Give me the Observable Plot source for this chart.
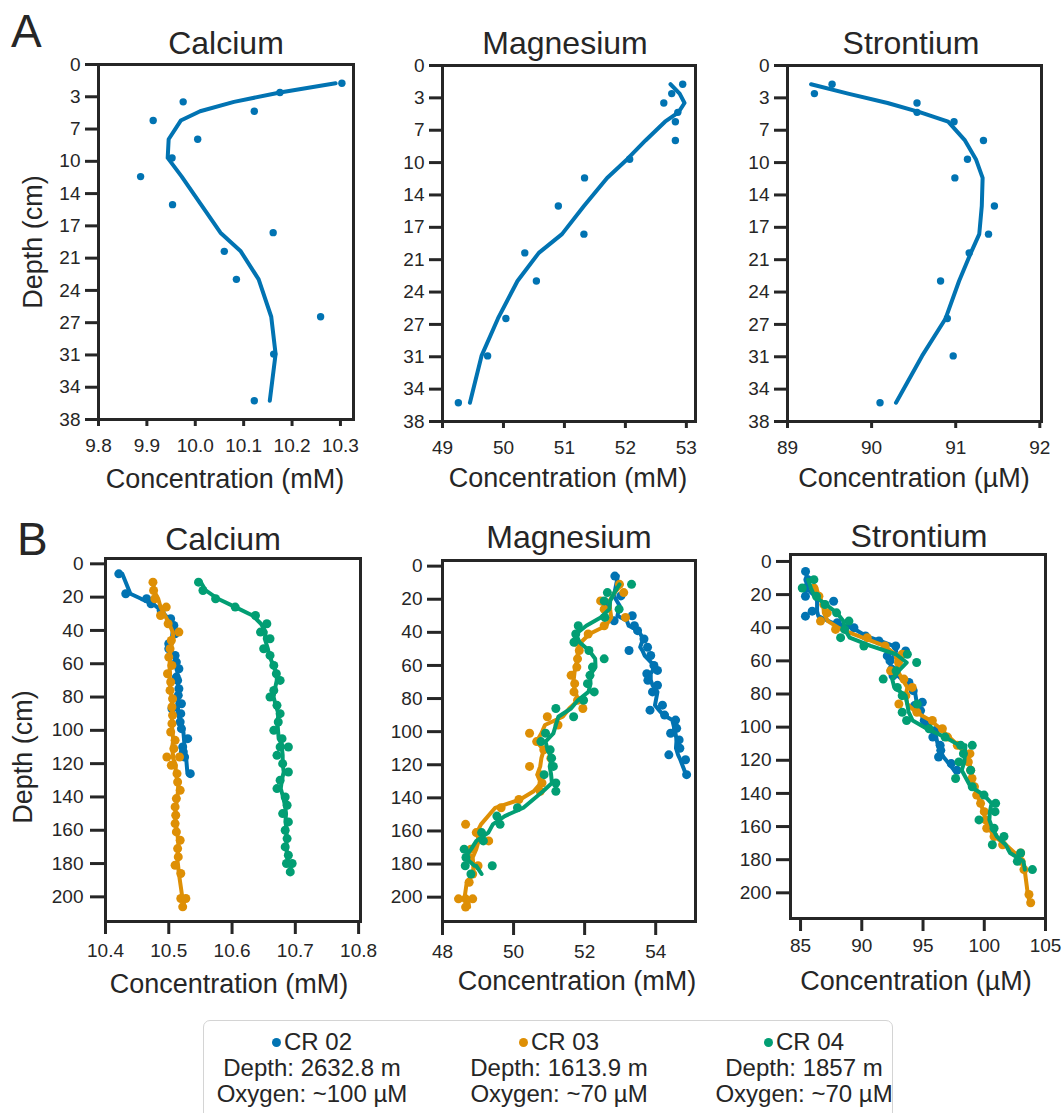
<!DOCTYPE html>
<html><head><meta charset="utf-8">
<script src="https://cdn.jsdelivr.net/npm/d3@7"></script>
<script src="https://cdn.jsdelivr.net/npm/@observablehq/plot@0.6"></script>
<style>
body{margin:0;background:#fff;}
#root{position:relative;width:1064px;height:1113px;overflow:hidden;font-family:"Liberation Sans",Arial,sans-serif;color:#262626;background:#fff;}
.t{position:absolute;white-space:nowrap;line-height:1;}
.c{transform:translateX(-50%);}
.rot{transform:translate(-50%,-50%) rotate(-90deg);}
#legend{position:absolute;left:203px;top:1020px;width:690px;height:110px;border:1.5px solid #d4d4d4;border-radius:7px;box-sizing:border-box;}
.col{position:absolute;top:8px;width:240px;text-align:center;font-size:24px;line-height:26px;}
.sw{display:inline-block;width:9px;height:9px;border-radius:50%;margin-right:3px;vertical-align:3px;}
</style></head>
<body><div id="root"></div>
<script>
// ---------- Panel A (single core) ----------
const depthA   = [2, 3, 4, 5, 6, 8, 10, 12, 15, 18, 20, 23, 27, 31, 36];
const caA      = [10.303, 10.175, 9.975, 10.122, 9.913, 10.005, 9.952, 9.887, 9.953, 10.161, 10.060, 10.085, 10.259, 10.162, 10.122];
const caFitA   = [10.290, 10.175, 10.080, 10.010, 9.970, 9.945, 9.943, 9.972, 10.012, 10.052, 10.094, 10.131, 10.157, 10.166, 10.154];
const mgA      = [52.94, 52.76, 52.63, 52.86, 52.82, 52.82, 52.07, 51.33, 50.90, 51.32, 50.35, 50.54, 50.04, 49.74, 49.26];
const mgFitA   = [52.74, 52.89, 52.97, 52.87, 52.65, 52.33, 52.03, 51.70, 51.32, 50.96, 50.58, 50.23, 49.91, 49.64, 49.45];
const srA      = [89.53, 89.32, 90.54, 90.54, 90.98, 91.33, 91.14, 90.99, 91.46, 91.39, 91.16, 90.82, 90.90, 90.97, 90.10];
const srFitA   = [89.28, 89.72, 90.19, 90.58, 90.91, 91.11, 91.24, 91.32, 91.31, 91.28, 91.18, 91.04, 90.88, 90.60, 90.29];
const depthTickLabelsA = ["0","3","7","10","14","17","21","24","27","31","34","38"];
const caTicksA = [9.8, 9.9, 10.0, 10.1, 10.2, 10.3];
const mgTicksA = [49, 50, 51, 52, 53];
const srTicksA = [89, 90, 91, 92];

// ---------- Panel B (three cores) : [depth cm, concentration] ----------
const caB02 = [[6,10.421],[18,10.432],[21,10.465],[24,10.472],[28,10.488],[33,10.503],[37,10.508],[42,10.510],[48,10.500],[51,10.500],[55,10.510],[59,10.512],[63,10.516],[68,10.512],[70,10.514],[75,10.516],[79,10.515],[84,10.520],[87,10.505],[90,10.519],[95,10.518],[99,10.520],[105,10.530],[110,10.522],[113,10.523],[116,10.525],[126,10.534]];
const caB03 = [[11,10.475],[16,10.476],[21,10.478],[26,10.496],[31,10.487],[36,10.499],[41,10.516],[46,10.504],[51,10.502],[56,10.500],[61,10.505],[66,10.498],[71,10.503],[76,10.502],[81,10.506],[86,10.505],[91,10.506],[96,10.505],[101,10.503],[106,10.510],[111,10.508],[116,10.497],[116,10.517],[121,10.504],[126,10.513],[131,10.514],[136,10.518],[141,10.512],[146,10.510],[151,10.511],[156,10.510],[161,10.512],[166,10.518],[171,10.514],[176,10.515],[181,10.510],[186,10.519],[201,10.519],[201,10.527],[206,10.522]];
const caB04 = [[11,10.547],[16,10.554],[21,10.574],[26,10.605],[31,10.637],[36,10.655],[41,10.645],[45,10.660],[51,10.650],[55,10.660],[61,10.666],[66,10.670],[70,10.676],[76,10.666],[80,10.660],[85,10.671],[90,10.676],[95,10.673],[100,10.666],[105,10.679],[110,10.676],[110,10.689],[115,10.671],[120,10.680],[125,10.689],[130,10.676],[135,10.671],[140,10.684],[145,10.687],[150,10.680],[155,10.689],[160,10.684],[165,10.687],[170,10.684],[175,10.689],[180,10.686],[180,10.695],[185,10.692]];
const mgB02 = [[6,52.85],[18,53.02],[24,52.60],[30,53.34],[33,52.83],[36,53.40],[39,53.49],[44,53.67],[49,53.77],[51,53.25],[54,53.86],[60,53.95],[63,54.05],[65,53.75],[69,53.78],[72,54.05],[76,53.91],[84,54.19],[87,53.84],[90,54.25],[93,54.56],[98,54.59],[101,54.42],[105,54.66],[110,54.68],[114,54.37],[117,54.84],[126,54.87]];
const mgB03 = [[11,52.98],[16,53.10],[21,52.45],[26,52.55],[31,53.15],[36,52.55],[41,52.10],[46,51.75],[51,51.85],[56,51.80],[61,51.78],[66,51.62],[71,51.72],[76,51.70],[81,51.80],[86,51.95],[91,50.95],[96,51.25],[101,50.45],[106,50.65],[111,50.85],[116,51.05],[121,50.45],[126,50.75],[131,50.80],[136,50.75],[141,50.15],[146,49.65],[156,48.65],[161,48.95],[166,49.30],[171,48.80],[176,48.75],[181,49.00],[186,48.85],[191,48.75],[201,48.45],[201,48.65],[201,48.85],[206,48.65]];
const mgB04 = [[11,53.32],[16,52.64],[21,52.55],[26,52.97],[31,52.57],[36,51.82],[41,51.75],[46,51.70],[51,52.12],[56,52.55],[61,52.22],[66,52.15],[71,52.08],[76,52.27],[81,51.97],[86,51.19],[91,51.69],[101,50.90],[106,50.77],[111,51.03],[116,51.07],[121,51.12],[126,50.86],[131,51.19],[136,51.19],[146,50.11],[151,49.53],[156,49.62],[161,49.10],[166,49.15],[171,48.61],[176,48.66],[181,48.64],[181,49.40],[186,48.80]];
const srB02 = [[6,85.41],[11,85.60],[16,85.45],[21,85.40],[24,87.70],[30,85.95],[33,85.40],[37,88.00],[40,89.36],[45,90.30],[48,91.40],[51,92.77],[54,93.58],[57,92.08],[60,92.30],[65,92.45],[69,92.55],[73,93.85],[78,94.20],[85,94.94],[87,94.30],[90,94.80],[96,95.10],[99,95.35],[102,96.03],[106,95.80],[111,96.40],[114,96.45],[118,96.27],[122,97.30],[126,97.77]];
const srB03 = [[16,86.09],[21,86.50],[26,86.90],[31,87.18],[36,86.63],[41,87.86],[46,90.45],[51,91.90],[56,93.30],[61,93.00],[66,92.35],[71,93.44],[76,94.12],[81,93.60],[86,93.03],[91,94.50],[96,95.76],[101,96.58],[106,97.00],[111,97.80],[116,98.83],[121,98.70],[126,98.89],[131,99.00],[136,99.20],[141,99.38],[146,99.70],[151,100.00],[156,100.11],[161,100.20],[166,100.80],[171,101.50],[176,102.97],[181,103.00],[186,103.24],[201,103.65],[206,103.79]];
const srB04 = [[11,86.09],[16,85.14],[21,86.30],[26,87.00],[31,87.94],[36,88.95],[41,88.60],[46,88.27],[51,90.17],[56,93.72],[61,94.48],[66,92.80],[71,91.75],[76,92.90],[81,93.30],[86,94.53],[91,93.30],[96,93.66],[101,95.50],[106,96.80],[111,98.07],[111,99.02],[116,98.30],[121,97.93],[126,98.89],[131,97.66],[136,99.02],[141,99.98],[146,100.93],[151,100.88],[156,99.57],[161,100.80],[166,101.61],[171,100.66],[176,102.97],[181,102.70],[186,103.93]];
const depthTicksB = [0, 20, 40, 60, 80, 100, 120, 140, 160, 180, 200];
const caTicksB = [10.4, 10.5, 10.6, 10.7, 10.8];
const mgTicksB = [48, 50, 52, 54];
const srTicksB = [85, 90, 95, 100, 105];

const cores = ["CR 02", "CR 03", "CR 04"];
const coreColors = ["#0173B2", "#DE8F05", "#029E73"];
const coreDepth = ["Depth: 2632.8 m", "Depth: 1613.9 m", "Depth: 1857 m"];
const coreOxygen = ["Oxygen: ~100 µM", "Oxygen: ~70 µM", "Oxygen: ~70 µM"];

const root = document.getElementById("root");
const INK = "#262626";
const FONT = "'Liberation Sans', Arial, sans-serif";

function addText(txt, left, top, size, cls = "t c") {
  const d = document.createElement("div");
  d.className = cls; d.textContent = txt;
  d.style.left = left + "px"; d.style.top = top + "px"; d.style.fontSize = size + "px";
  root.appendChild(d);
  return d;
}

function panel(cfg) {
  const {L, R, T, B, xDomain, yDomain, xTicks, xFmt, yTicks, yFmt, marks, xt, yt} = cfg;
  const padL = 100, padR = 25, padT = 12, padB = 45;
  const svg = Plot.plot({
    width: (R - L) + padL + padR,
    height: (B - T) + padT + padB,
    marginLeft: padL, marginRight: padR, marginTop: padT, marginBottom: padB,
    x: {domain: xDomain},
    y: {domain: yDomain},
    style: {background: "transparent", color: INK, fontFamily: FONT, overflow: "visible", maxWidth: "none"},
    marks: [
      ...marks,
      Plot.frame({stroke: INK, strokeWidth: 3}),
      Plot.axisX({ticks: xTicks, tickFormat: xFmt, tickSize: xt[0], tickPadding: xt[1], fontSize: 19, strokeWidth: 3, label: null}),
      Plot.axisY({ticks: yTicks, tickFormat: yFmt, tickSize: yt[0], tickPadding: yt[1], fontSize: 19, strokeWidth: 3, label: null})
    ]
  });
  svg.style.position = "absolute";
  svg.style.left = (L - padL) + "px";
  svg.style.top = (T - padT) + "px";
  root.appendChild(svg);
}

// Panel A
const rowsA = depthA.map((d, i) => ({depth: d, ca: caA[i], caFit: caFitA[i], mg: mgA[i], mgFit: mgFitA[i], sr: srA[i], srFit: srFitA[i]}));
const depthTicksA = depthTickLabelsA.map((_, i) => i * 38 / (depthTickLabelsA.length - 1));
const labA = new Map(depthTicksA.map((t, i) => [t, depthTickLabelsA[i]]));
const fmtA = d => labA.get(d);
function aMarks(k) {
  return [
    Plot.dot(rowsA, {x: k, y: "depth", fill: coreColors[0], r: 3.7}),
    Plot.line(rowsA, {x: k + "Fit", y: "depth", stroke: coreColors[0], strokeWidth: 4})
  ];
}
panel({L: 98, R: 353, T: 64, B: 419, xDomain: [9.8, 10.327], yDomain: [38, 0], xTicks: caTicksA, xFmt: d3.format(".1f"),
  yTicks: depthTicksA, yFmt: fmtA, marks: aMarks("ca"), xt: [7, 12], yt: [13, 5]});
panel({L: 442, R: 695, T: 65, B: 421, xDomain: [49, 53.15], yDomain: [38, 0], xTicks: mgTicksA, xFmt: d3.format("d"),
  yTicks: depthTicksA, yFmt: fmtA, marks: aMarks("mg"), xt: [7, 12], yt: [13, 5]});
panel({L: 787, R: 1041, T: 65, B: 421, xDomain: [89, 92.02], yDomain: [38, 0], xTicks: srTicksA, xFmt: d3.format("d"),
  yTicks: depthTicksA, yFmt: fmtA, marks: aMarks("sr"), xt: [7, 12], yt: [13, 5]});

// Panel B
function bMarks(seriesList) {
  return seriesList.flatMap((rows, i) => {
    const data = rows.map(([depth, value]) => ({depth, value}));
    return [
      Plot.dot(data, {x: "value", y: "depth", fill: coreColors[i], r: 4.5}),
      Plot.line(data, Plot.windowX({k: 3, reduce: "mean"}, {x: "value", y: "depth", stroke: coreColors[i], strokeWidth: 4}))
    ];
  });
}
const fmtB = d3.format("d");
panel({L: 105, R: 360, T: 558, B: 921, xDomain: [10.4, 10.803], yDomain: [214.8, -3.2], xTicks: caTicksB, xFmt: d3.format(".1f"),
  yTicks: depthTicksB, yFmt: fmtB, marks: bMarks([caB02, caB03, caB04]), xt: [13, 9], yt: [15, 7]});
panel({L: 442, R: 695, T: 560, B: 921, xDomain: [48, 55.12], yDomain: [214.7, -3.4], xTicks: mgTicksB, xFmt: d3.format("d"),
  yTicks: depthTicksB, yFmt: fmtB, marks: bMarks([mgB02, mgB03, mgB04]), xt: [14, 9], yt: [15, 5]});
panel({L: 790, R: 1045, T: 554, B: 918, xDomain: [84.18, 105], yDomain: [215.5, -4.2], xTicks: srTicksB, xFmt: d3.format("d"),
  yTicks: depthTicksB, yFmt: fmtB, marks: bMarks([srB02, srB03, srB04]), xt: [13, 7], yt: [14, 5]});

// Titles, axis labels, panel letters
const titleSize = 32, labSize = 27;
const tTop = b => b - 0.8465 * titleSize;
const lTop = b => b - 0.8465 * labSize;
addText("Calcium", 226, tTop(54), titleSize);
addText("Magnesium", 565, tTop(54), titleSize);
addText("Strontium", 911, tTop(54), titleSize);
addText("Calcium", 223, tTop(550), titleSize);
addText("Magnesium", 569, tTop(548), titleSize);
addText("Strontium", 919, tTop(547), titleSize);
addText("Concentration (mM)", 225, lTop(489), labSize);
addText("Concentration (mM)", 568, lTop(488), labSize);
addText("Concentration (µM)", 914, lTop(488), labSize);
addText("Concentration (mM)", 229, lTop(994), labSize);
addText("Concentration (mM)", 577, lTop(991), labSize);
addText("Concentration (µM)", 916, lTop(991), labSize);
addText("Depth (cm)", 33, 242, labSize, "t rot");
addText("Depth (cm)", 23, 757, labSize, "t rot");
addText("A", 11, 47 - 0.8465 * 46, 46, "t");
addText("B", 17, 555 - 0.8465 * 46, 46, "t");

// Legend
const leg = document.createElement("div");
leg.id = "legend";
root.appendChild(leg);
const colCenters = [108, 355, 600];
cores.forEach((name, i) => {
  const col = document.createElement("div");
  col.className = "col";
  col.style.left = (colCenters[i] - 120) + "px";
  const l1 = document.createElement("div");
  const sw = document.createElement("span");
  sw.className = "sw"; sw.style.background = coreColors[i];
  l1.appendChild(sw); l1.appendChild(document.createTextNode(name));
  const l2 = document.createElement("div"); l2.textContent = coreDepth[i];
  const l3 = document.createElement("div"); l3.textContent = coreOxygen[i];
  col.appendChild(l1); col.appendChild(l2); col.appendChild(l3);
  leg.appendChild(col);
});
</script>
</body></html>
